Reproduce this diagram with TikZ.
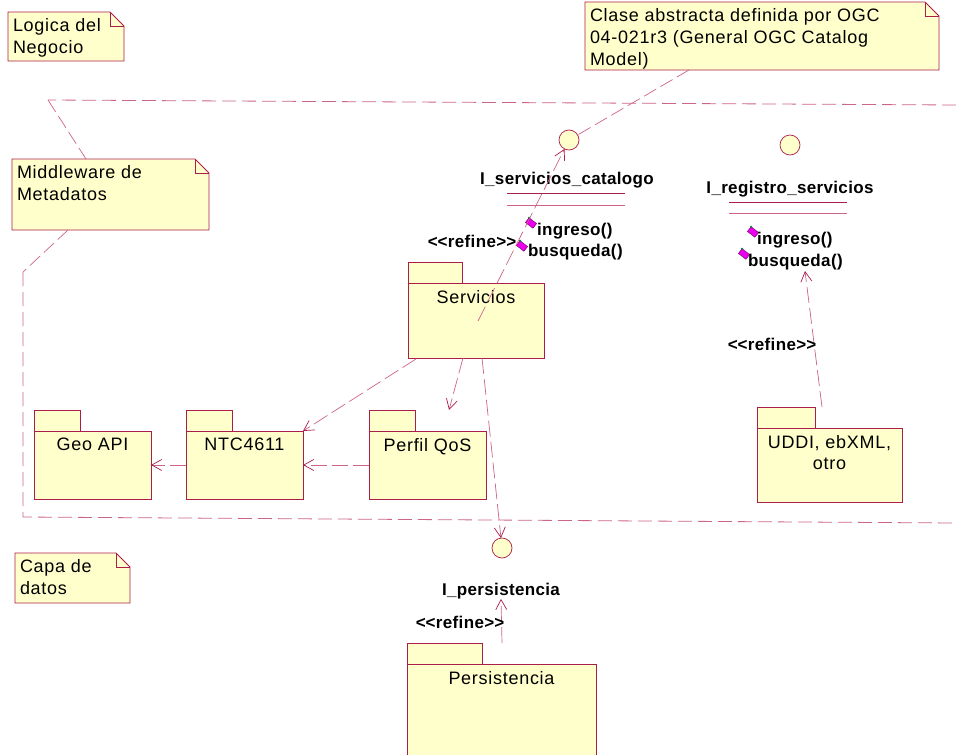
\documentclass[tikz,border=0pt]{standalone}
\usepackage{fontspec}
\setmainfont{Liberation Sans}[LetterSpace=4, BoldFeatures={LetterSpace=2}]
\usetikzlibrary{arrows.meta,calc}

\definecolor{umlfill}{RGB}{255,255,204}
\definecolor{umlline}{RGB}{170,30,75}
\definecolor{umldash}{RGB}{205,100,140}
\definecolor{opmag}{RGB}{235,0,235}
\definecolor{opedge}{RGB}{110,0,110}
\definecolor{opgreen}{RGB}{0,140,60}

\tikzset{
  every node/.style={inner sep=0pt, outer sep=0pt},
  notebox/.style={rectangle, anchor=north west},
  notetext/.style={font=\fontsize{18}{22}\selectfont, align=left, anchor=north west},
  pkgbody/.style={rectangle, draw=umlline, fill=umlfill, line width=0.8pt, anchor=north west},
  pkgtab/.style={draw=umlline, fill=umlfill, line width=0.8pt},
  pkgtext/.style={font=\fontsize{18}{21}\selectfont, align=center, anchor=north},
  iface/.style={circle, draw=umlline, fill=umlfill, line width=0.7pt, minimum size=20pt},
  boldlabel/.style={font=\bfseries\fontsize{17}{20}\selectfont},
  optext/.style={boldlabel, anchor=base west},
  opicon/.style={rectangle, draw=opedge, fill=opmag, line width=0.4pt,
    minimum width=9.5pt, minimum height=6pt, rotate=-38},
  dep/.style={draw=umldash, line width=0.7pt, dash pattern=on 16pt off 5pt,
    -{Straight Barb[length=10pt,width=11pt,line width=0.7pt,color=umlline]}},
  noteline/.style={draw=umldash, line width=0.7pt, dash pattern=on 14pt off 5pt},
  frontier/.style={draw=umldash, line width=0.8pt, dash pattern=on 14pt off 6pt},
}

% stereotype text, with the angle brackets kept apart
\newcommand\stereotype[1]{<\kern0pt<#1>\kern0pt>}

% UML note with a folded corner: name, x, y, width, height, text
\newcommand\umlnote[6]{%
  \node[notebox, minimum width=#4pt, minimum height=#5pt] (#1) at (#2,#3) {};
  \filldraw[draw=umlline, fill=umlfill, line width=0.8pt]
    (#1.north west) -- ([xshift=-14pt]#1.north east) -- ([yshift=-14pt]#1.north east)
    -- (#1.south east) -- (#1.south west) -- cycle;
  \draw[umlline, line width=0.6pt] ([xshift=-14pt]#1.north east) |- ([yshift=-14pt]#1.north east);
  \node[notetext] (#1-text) at ([shift={(5pt,-6pt)}]#1.north west) {#6};
}

% UML package with its tab: name, x, y, width, height, label
\newcommand\umlpkg[6]{%
  \node[pkgbody, minimum width=#4pt, minimum height=#5pt] (#1) at (#2,#3) {};
  \draw[pkgtab] (#1.north west) rectangle ++({0.4*#4},-21);
  \node[pkgtext] (#1-label) at ([yshift=-7pt]#1.north) {#6};
}

% operation marker: name, x, y
\newcommand\opmarker[3]{%
  \node[opicon] (#1) at (#2,#3) {};
  \fill[opgreen] (#1.north west) circle (1.1pt);
}

\begin{document}
\begin{tikzpicture}[x=1pt,y=-1pt]
\useasboundingbox (0,0) rectangle (956,755);
\clip (0,0) rectangle (956,755);
\fill[white] (0,0) rectangle (956,755);

% frontier of the middleware layer
\coordinate (tl) at (48,100);
\coordinate (tr) at (956,105);
\coordinate (lt) at (23,272);
\coordinate (bl) at (23,517);
\coordinate (br) at (956,523);
\draw[frontier] (tr) -- (tl);
\draw[frontier] (lt) -- (bl) -- (br);

% notes
\umlnote{logica}{8}{12}{116}{49}{Logica del\\Negocio}
\umlnote{clase}{585}{2}{354}{68}{Clase abstracta definida por OGC\\04-021r3 (General OGC Catalog\\Model)}
\umlnote{middleware}{12}{159}{197}{71}{Middleware de\\Metadatos}
\umlnote{capa}{15}{553}{115}{50}{Capa de\\datos}

% interfaces
\node[iface] (isc) at (569,140) {};
\node[boldlabel] (isc-name) at (567,180) {I\_servicios\_catalogo};
\draw[umlline, line width=0.7pt] (507,193) -- (625,193);
\draw[umldash, line width=0.7pt] (507,205) -- (625,205);
\opmarker{isc-ic1}{531}{223}
\opmarker{isc-ic2}{522}{246}
\node[optext] (isc-op1) at (537,235) {ingreso()};
\node[optext] (isc-op2) at (528,256) {busqueda()};

\node[iface] (irs) at (790,145) {};
\node[boldlabel] (irs-name) at (790,189) {I\_registro\_servicios};
\draw[umlline, line width=0.7pt] (729,202) -- (847,202);
\draw[umldash, line width=0.7pt] (729,213) -- (847,213);
\opmarker{irs-ic1}{753}{232}
\opmarker{irs-ic2}{744}{254}
\node[optext] (irs-op1) at (757,244) {ingreso()};
\node[optext] (irs-op2) at (748,266) {busqueda()};

\node[iface] (ipe) at (502,548) {};
\node[boldlabel] (ipe-name) at (501,591) {I\_persistencia};

% packages
\umlpkg{serv}{408}{283}{136}{75}{Servicios}
\umlpkg{geo}{34}{431}{117}{68}{Geo API}
\umlpkg{ntc}{186}{431}{117}{68}{NTC4611}
\umlpkg{qos}{369}{431}{117}{68}{Perfil QoS}
\umlpkg{uddi}{757}{428}{145}{74}{UDDI, ebXML,\\otro}
\umlpkg{pers}{407}{664}{189}{100}{Persistencia}

% note attachments
\coordinate (mwtop) at (86,159);
\coordinate (mwbot) at (68,230);
\coordinate (clasebot) at (689,70);
\draw[noteline] (tl) -- (mwtop);
\draw[noteline] (mwbot) -- (lt);
\draw[noteline] (clasebot) -- (isc);

% dependencies
\coordinate (servsrc) at (478,321);
\draw[dep] (servsrc) -- (isc);
\node[boldlabel] (ref1) at (472,241) {\stereotype{refine}};

\coordinate (uddisrc) at (822,407);
\coordinate (irstip) at (805,271);
\draw[dep] (uddisrc) -- (irstip);
\node[boldlabel] (ref2) at (772,344) {\stereotype{refine}};

\coordinate (servA) at (416,359);
\coordinate (servB) at (463,358);
\coordinate (servC) at (482,358);
\coordinate (qostip) at (449,410);
\draw[dep] (servA) -- (ntc.north east);
\draw[dep] (servB) -- (qostip);
\draw[dep] (servC) -- (ipe);
\draw[dep] (ntc.west) -- (geo.east);
\draw[dep] (qos.west) -- (ntc.east);

\coordinate (perssrc) at (502,643);
\draw[dep] (perssrc) -- (ipe-name.south);
\node[boldlabel] (ref3) at (460,622) {\stereotype{refine}};
\end{tikzpicture}
\end{document}
